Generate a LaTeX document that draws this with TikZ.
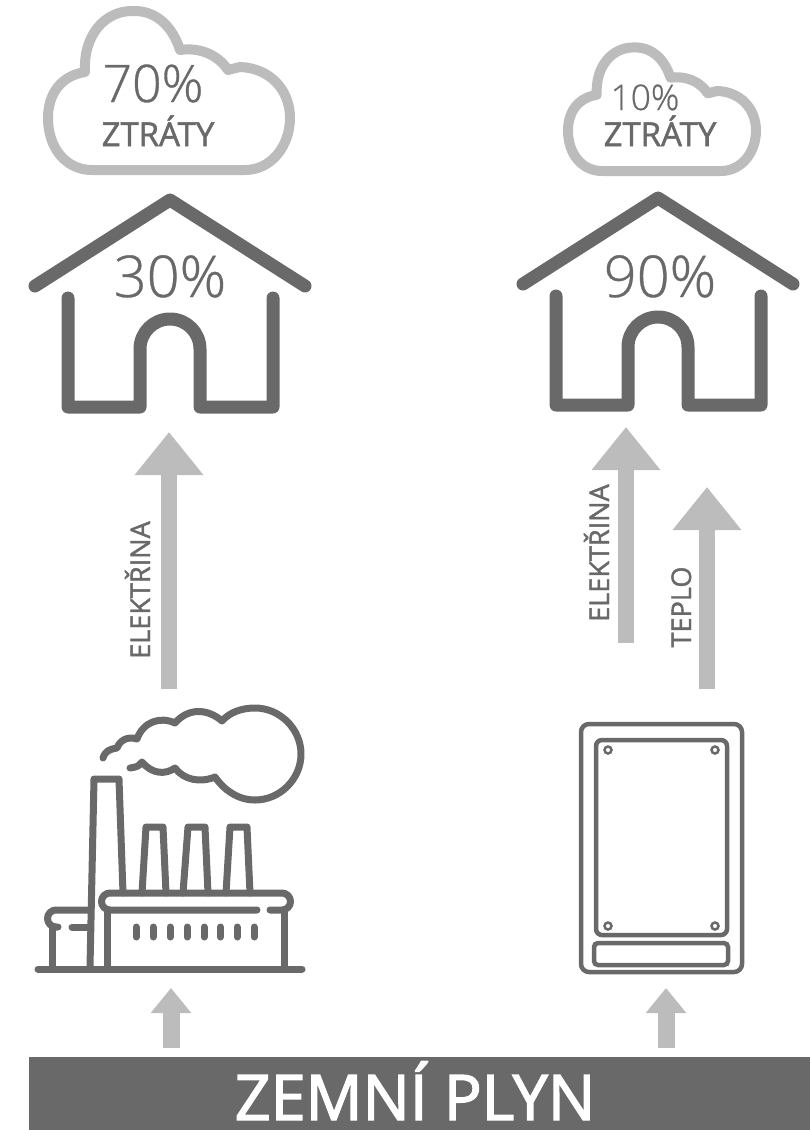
\documentclass[tikz,border=0pt]{standalone}
\usepackage{fontspec}
\usepackage{xcolor}
\usetikzlibrary{arrows.meta}
\setmainfont{Open Sans}
\newfontfamily\lightfont[FakeBold=0.6]{Open Sans Light}
\newfontfamily\semifont[FakeBold=1.6]{Open Sans}
\newfontfamily\titlefont[FakeBold=2.2]{Open Sans}
\definecolor{line-dark}{HTML}{696969}
\definecolor{line-light}{HTML}{BCBCBC}
\newcommand{\pxu}{0.85pt}

\begin{document}
\begin{tikzpicture}[x=0.85pt, y=-0.85pt,
      every node/.style={text=line-dark, inner sep=0pt},
      iconline/.style={draw=line-dark, line width=7*\pxu, line cap=round, line join=round},
      plateline/.style={draw=line-dark, line width=4.5*\pxu, rounded corners=6*\pxu},
      houseline/.style={draw=line-dark, line width=13*\pxu, line cap=round, line join=round},
      bigflow/.style={draw=line-light, line width=16*\pxu, -{Triangle[length=43*\pxu, width=66*\pxu]}},
      smallflow/.style={draw=line-light, line width=17*\pxu, -{Triangle[length=25*\pxu, width=39*\pxu]}},
      flowlabel/.style={anchor=base, rotate=90, font=\semifont\fontsize{23}{23}\selectfont},
      loss/.style={anchor=base, font=\semifont\fontsize{28}{28}\selectfont},
      share/.style={anchor=base, font=\lightfont\fontsize{49}{49}\selectfont},
      house/.pic={
        \draw[houseline] (-135,86) -- (0,0) -- (135,86);
        \draw[houseline] (-102,98) -- (-102,207) -- (-30,207) -- (-30,149)
          arc[start angle=180, end angle=360, radius=30] -- (30,207) -- (103,207) -- (103,98);
      },
      cloud/.pic={
        \draw[draw=line-light, line width=10*\pxu, line join=round]
          (-84,-98) .. controls (-109,-94) and (-121,-75) .. (-121,-52)
          .. controls (-121,-22) and (-103,0) .. (-77,0) -- (76,0)
          .. controls (103,0) and (121,-25) .. (121,-52)
          .. controls (121,-80) and (101,-102) .. (71,-103) -- (59,-100)
          .. controls (49,-115) and (31,-123) .. (11,-120)
          .. controls (3,-145) and (-14,-160) .. (-37,-159)
          .. controls (-64,-159) and (-86,-135) .. (-84,-98) -- cycle;
      }]
    \useasboundingbox (0,0) rectangle (810,1130);

    % gas bar
    \fill[line-dark] (29,1057) rectangle (810,1130);
    \node[anchor=base, text=white, font=\titlefont\fontsize{53.5}{53.5}\selectfont] (gas) at (415,1120) {ZEMNÍ PLYN};

    % clouds and houses
    \pic at (169,170) {cloud};
    \pic[scale=0.777] at (662,171) {cloud};
    \pic at (170,200) {house};
    \pic at (658,198) {house};
    \node[share] (shareA) at (170,297) {30\%};
    \node[share] (shareB) at (660,297) {90\%};
    \node[share, font=\lightfont\fontsize{44}{44}\selectfont] (lossvalA) at (153,102) {70\%};
    \node[share, font=\lightfont\fontsize{30}{30}\selectfont] (lossvalB) at (645,110) {10\%};
    \node[loss] (lossA) at (158,146) {ZTRÁTY};
    \node[loss] (lossB) at (660,146) {ZTRÁTY};

    % flows
    \coordinate (plantIn) at (171,988);
    \coordinate (gasA) at (171,1048);
    \coordinate (boilerIn) at (666,988);
    \coordinate (gasB) at (666,1048);
    \coordinate (plantOut) at (169,689);
    \coordinate (houseA) at (169,432);
    \coordinate (boilerEl) at (626,643);
    \coordinate (houseEl) at (626,427);
    \coordinate (boilerHeat) at (707,689);
    \coordinate (houseHeat) at (707,487);
    \draw[smallflow] (gasA) -- (plantIn);
    \draw[smallflow] (gasB) -- (boilerIn);
    \draw[bigflow] (plantOut) -- (houseA);
    \draw[bigflow] (boilerEl) -- (houseEl);
    \draw[bigflow] (boilerHeat) -- (houseHeat);
    \node[flowlabel] (elA) at (150,590) {ELEKTŘINA};
    \node[flowlabel] (elB) at (609,553) {ELEKTŘINA};
    \node[flowlabel] (heat) at (691,607) {TEPLO};

    % power plant
    \draw[iconline] (38,969) -- (302,969);
    \draw[iconline] (90,967) -- (94,779) -- (119,779) -- (123,893);
    \draw[iconline] (142,893) -- (146,827) -- (163,827) -- (166,893);
    \draw[iconline] (183,893) -- (188,827) -- (205,827) -- (208,893);
    \draw[iconline] (226,893) -- (230,827) -- (247,827) -- (250,893);
    \draw[iconline] (270,910) -- (282,910) arc[start angle=90, end angle=-90, radius=8.5] -- (110,893)
      arc[start angle=270, end angle=90, radius=8.5] -- (257,910);
    \draw[iconline] (107,910) -- (107,967);
    \draw[iconline] (284,910) -- (284,967);
    \draw[iconline] (90,910) -- (56,910) arc[start angle=270, end angle=90, radius=8.5] -- (58,927);
    \draw[iconline] (72,927) -- (88,927);
    \draw[iconline] (52,927) -- (52,967);
    \foreach \winx in {136,153,170,187,204,220.5,237,254}
      \draw[iconline] (\winx,927) -- (\winx,937);
    % smoke
    \draw[iconline] (103,758) .. controls (105,751) and (110,749) .. (117,748)
      .. controls (120,740) and (128,736) .. (137,739)
      .. controls (143,722) and (160,716) .. (175,723)
      .. controls (188,708) and (207,708) .. (222,721)
      .. controls (230,712) and (242,708) .. (255,708)
      .. controls (280,708) and (301,729) .. (301,754)
      .. controls (301,779) and (280,800) .. (255,800)
      .. controls (238,800) and (224,790) .. (215,777)
      .. controls (200,783) and (184,780) .. (175,768)
      .. controls (165,775) and (152,774) .. (142,762)
      .. controls (138,767) and (136,767) .. (130,768);

    % boiler
    \draw[plateline, rounded corners=8*\pxu] (581,724) rectangle (742,972);
    \draw[plateline] (596,740) rectangle (727,935);
    \draw[plateline, rounded corners=4*\pxu] (594,943) rectangle (728,965);
    \foreach \screwx in {608,715}
      \foreach \screwy in {750,926}
        \draw[draw=line-dark, line width=2.5*\pxu] (\screwx,\screwy) circle[radius=3.5];
  \end{tikzpicture}
\end{document}
